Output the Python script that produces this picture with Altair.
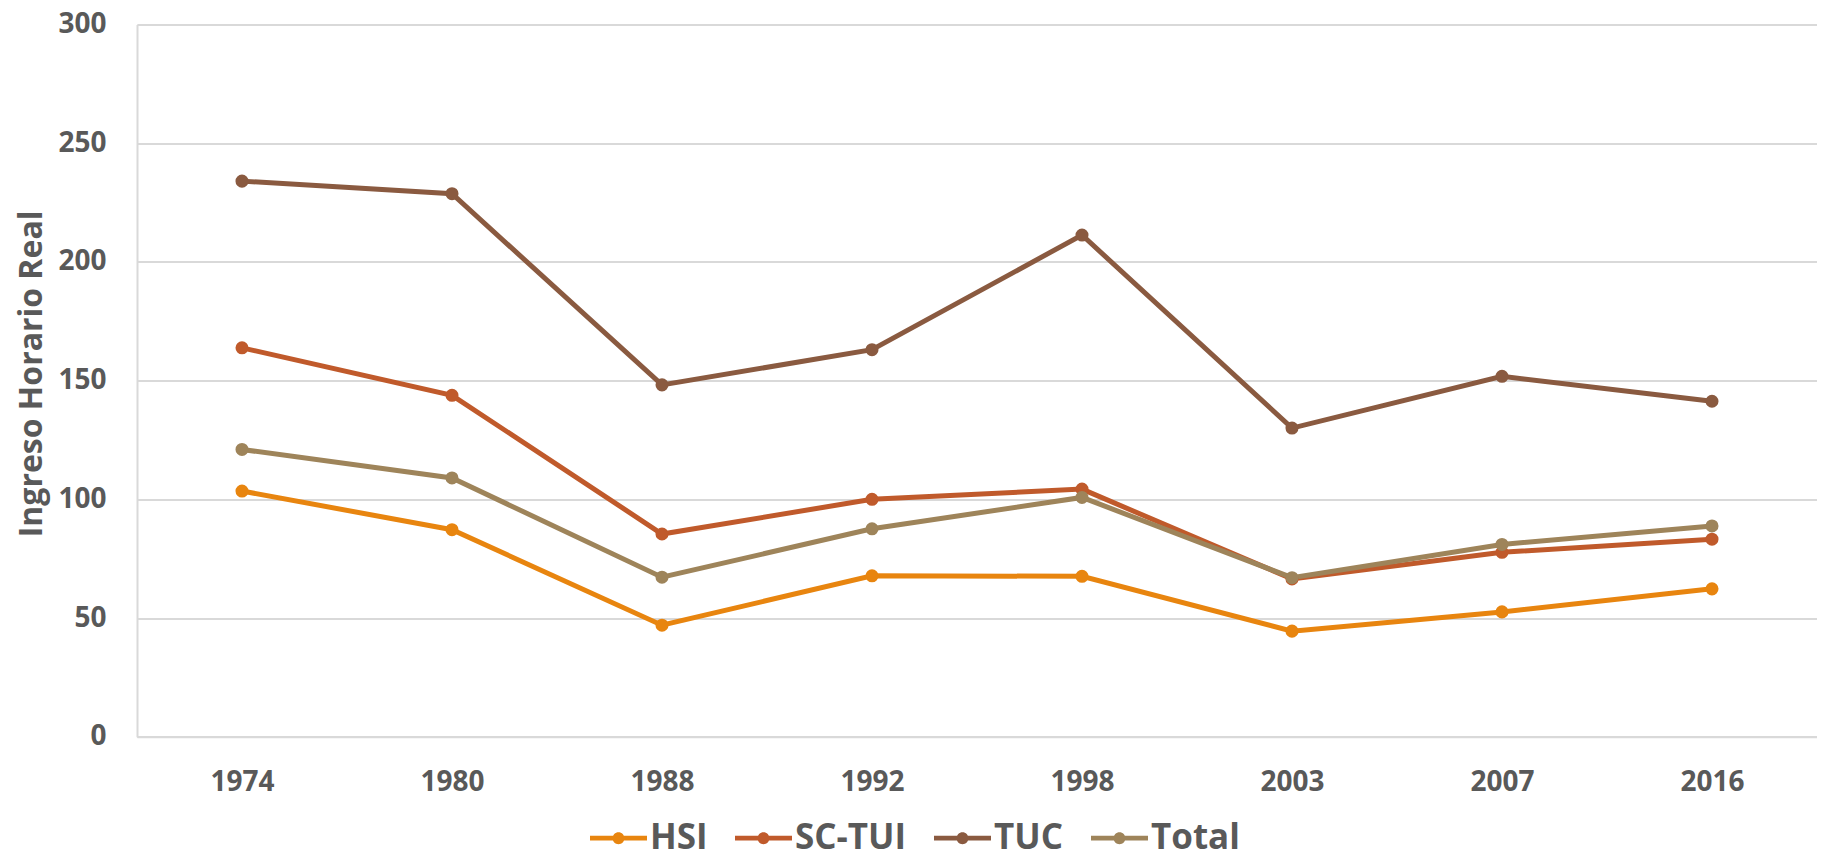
import altair as alt
import pandas as pd

years = ["1974", "1980", "1988", "1992", "1998", "2003", "2007", "2016"]
series_names = ["HSI", "SC-TUI", "TUC", "Total"]
hsi = [103.5, 87.2, 47.0, 67.8, 67.6, 44.5, 52.6, 62.3]
sc_tui = [163.8, 143.8, 85.4, 100.0, 104.3, 66.5, 77.7, 83.2]
tuc = [234.0, 228.7, 148.2, 163.0, 211.3, 130.0, 151.8, 141.3]
total = [121.0, 109.0, 67.2, 87.6, 100.8, 67.0, 81.0, 88.8]
colors = ["#E8850F", "#C05A2B", "#8A5A40", "#9E845A"]
y_ticks = [0, 50, 100, 150, 200, 250, 300]

rows = []
for name, vals in zip(series_names, [hsi, sc_tui, tuc, total]):
    for yr, v in zip(years, vals):
        rows.append({"Año": yr, "Serie": name, "Valor": v})
df = pd.DataFrame(rows)

FONT = "Open Sans"
GREY = "#595959"

sym_path = ("M-1,-0.08 L1,-0.08 L1,0.08 L-1,0.08 Z "
            "M0.21,0 A0.21,0.21 0 1,1 -0.21,0 A0.21,0.21 0 1,1 0.21,0 Z")

legend = alt.Legend(
    orient="none", legendX=453, legendY=785, direction="horizontal", title=None,
    symbolType=sym_path, symbolSize=3249, symbolStrokeWidth=0, symbolOpacity=1,
    labelFont=FONT, labelFontWeight="bold", labelFontSize=35, labelColor=GREY,
    columnPadding=27, labelOffset=3, padding=0,
)

scale = alt.Scale(domain=series_names, range=colors)
color = alt.Color("Serie:N", scale=scale, sort=series_names, legend=legend)

x = alt.X("Año:O", sort=years, title=None,
          scale=alt.Scale(padding=0.5),
          axis=alt.Axis(labelFont=FONT, labelFontWeight="bold", labelFontSize=28,
                        labelColor=GREY, labelAngle=0, ticks=False, labelPadding=32,
                        domainColor="#D9D9D9", domainWidth=2, grid=False))
y = alt.Y("Valor:Q", title="Ingreso Horario Real",
          scale=alt.Scale(domain=[0, 300], nice=False),
          axis=alt.Axis(values=y_ticks, labelFont=FONT, labelFontWeight="bold",
                        labelFontSize=28, labelColor=GREY, ticks=False, labelPadding=31,
                        domainColor="#D9D9D9", domainWidth=2,
                        gridColor="#D9D9D9", gridWidth=2,
                        titleFont=FONT, titleFontWeight="bold", titleFontSize=32,
                        titleColor=GREY, titleX=-106, titleY=349, titleAngle=270,
                        titleAlign="center", titleBaseline="middle"))

base = alt.Chart(df)
lines = base.mark_line(strokeWidth=5).encode(
    x=x, y=y, color=color, order=alt.Order("Año:O"))
points = base.mark_point(filled=True, size=170, opacity=1).encode(
    x=x, y=y, color=color)

chart = alt.layer(lines, points).properties(
    width=1680, height=712.4,
    autosize=alt.AutoSizeParams(type="none"),
    padding={"left": 129, "top": 16.4, "right": 0, "bottom": 127},
).configure_view(stroke=None).configure(background="white")

chart.save("out.html", embed_options={"renderer": "svg", "actions": False})
